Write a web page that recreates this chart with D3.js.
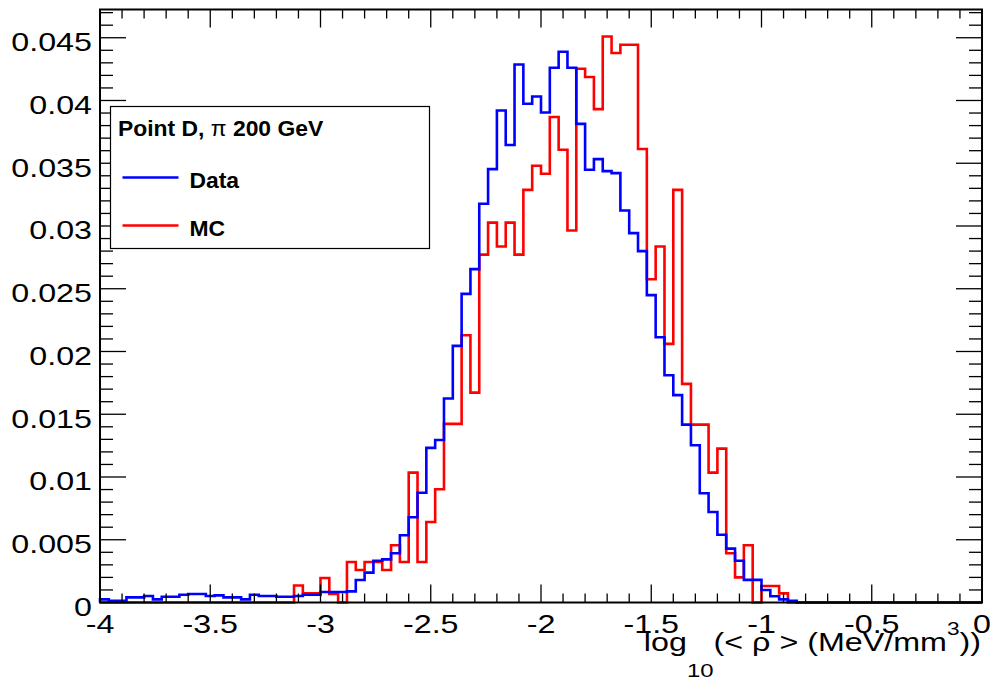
<!DOCTYPE html>
<html>
<head>
<meta charset="utf-8">
<script src="https://cdn.jsdelivr.net/npm/d3@7"></script>
<style>
  body { margin: 0; background: #fff; }
  text { font-family: "Liberation Sans", Arial, Helvetica, sans-serif; fill: #000; }
</style>
</head>
<body>
<div id="chart"></div>
<script>
// Histogram binning: 100 bins of 0.04 from -4 to 0
const xMin = -4
const binWidth = 0.04

// Data (blue), bin contents
const dataValues = [
  0.00025, 0.00014, 0.00014, 0.00041, 0.00041, 0.00052, 0.00025, 0.00046, 0.00046, 0.00062,
  0.00068, 0.00068, 0.00052, 0.00057, 0.00041, 0.00041, 0.00025, 0.00062, 0.00052, 0.00052,
  0.00046, 0.00046, 0.00052, 0.00062, 0.00062, 0.00084, 0.00084, 0.00084, 0.00089, 0.00179,
  0.00238, 0.00333, 0.00344, 0.00392, 0.00536, 0.00679, 0.00875, 0.01232, 0.01295, 0.01625,
  0.02045, 0.02459, 0.02656, 0.03177, 0.03453, 0.0392, 0.03645, 0.04287, 0.03974, 0.04032,
  0.03904, 0.04261, 0.04388, 0.04261, 0.03814, 0.03448, 0.03533, 0.03437, 0.03421, 0.03123,
  0.02943, 0.028, 0.02449, 0.02114, 0.01811, 0.01652, 0.01417, 0.01253, 0.0087, 0.00721,
  0.0054, 0.00429, 0.00333, 0.0018, 0.0018, 0.001, 0.0005, 0.00025, 0.00014, 0,
  0, 0, 0, 0, 0, 0, 0, 0, 0, 0,
  0, 0, 0, 0, 0, 0, 0, 0, 0, 0
]

// MC (red)
const mcValues = [
  0, 0, 0, 0, 0, 0, 0, 0, 0, 0,
  0, 0, 0, 0, 0, 0, 0, 0, 0, 0,
  0, 0, 0.00135, 0.00073, 0.00073, 0.00195, 0.00068, 0, 0.00323, 0.00259,
  0.00323, 0.00323, 0.00259, 0.00456, 0.00323, 0.01035, 0.00323, 0.00642, 0.00902, 0.01423,
  0.01423, 0.0213, 0.01672, 0.02772, 0.03027, 0.02836, 0.03027, 0.02772, 0.03288, 0.0348,
  0.03416, 0.03868, 0.03607, 0.02964, 0.04253, 0.04187, 0.03931, 0.0451, 0.04378, 0.04444,
  0.04444, 0.03613, 0.02576, 0.02836, 0.02061, 0.03288, 0.01742, 0.01417, 0.01417, 0.01035,
  0.01226, 0.00392, 0.002, 0.00456, 0, 0.00132, 0.00132, 0.00073, 0, 0,
  0, 0, 0, 0, 0, 0, 0, 0, 0, 0,
  0, 0, 0, 0, 0, 0, 0, 0, 0, 0
]

const xTicks = [-4, -3.5, -3, -2.5, -2, -1.5, -1, -0.5, 0]
const yTicks = [0, 0.005, 0.01, 0.015, 0.02, 0.025, 0.03, 0.035, 0.04, 0.045]
const legendTitle = "Point D, "
const legendEntries = [
  { label: "Data", color: "#0000ff" },
  { label: "MC", color: "#ff0000" }
]

// Dimensions
let dimensions = {
  width: 993,
  height: 682,
  margin: { top: 9.5, right: 11, bottom: 79.5, left: 100 }
}
dimensions.ctnrWidth = dimensions.width - dimensions.margin.left - dimensions.margin.right
dimensions.ctnrHeight = dimensions.height - dimensions.margin.top - dimensions.margin.bottom

const svg = d3.select("#chart")
  .append("svg")
  .attr("width", dimensions.width)
  .attr("height", dimensions.height)

const ctnr = svg.append("g")
  .attr("transform", `translate(${dimensions.margin.left}, ${dimensions.margin.top})`)

const xScale = d3.scaleLinear()
  .domain([-4, 0])
  .range([0, dimensions.ctnrWidth])

const yScale = d3.scaleLinear()
  .domain([0, 0.04725])
  .range([dimensions.ctnrHeight, 0])

// step outline like ROOT's HIST option
function stepLine(values) {
  const pts = []
  const x0 = xMin
  pts.push([xScale(x0), yScale(0)])
  values.forEach((v, i) => {
    const a = x0 + i * binWidth
    pts.push([xScale(a), yScale(v)])
    pts.push([xScale(a + binWidth), yScale(v)])
  })
  pts.push([xScale(x0 + values.length * binWidth), yScale(0)])
  return d3.line()(pts)
}

ctnr.append("path")
  .attr("d", stepLine(mcValues))
  .attr("fill", "none")
  .attr("stroke", "#ff0000")
  .attr("stroke-width", 2.6)

ctnr.append("path")
  .attr("d", stepLine(dataValues))
  .attr("fill", "none")
  .attr("stroke", "#0000ff")
  .attr("stroke-width", 2.6)

// Ticks on all four sides, drawn inward
const xMinor = d3.range(-40, 1).map(d => d / 10)
const yMinor = d3.range(0, 48).map(d => d / 1000)
const tickG = ctnr.append("g").attr("stroke", "#000").attr("stroke-width", 1.3)

const isMajorX = d => Math.abs(d * 2 - Math.round(d * 2)) < 1e-9
const isMajorY = d => Math.abs(d * 200 - Math.round(d * 200)) < 1e-6

xMinor.forEach(d => {
  const len = isMajorX(d) ? 18 : 9
  const x = xScale(d)
  tickG.append("line").attr("x1", x).attr("x2", x)
    .attr("y1", dimensions.ctnrHeight).attr("y2", dimensions.ctnrHeight - len)
  tickG.append("line").attr("x1", x).attr("x2", x)
    .attr("y1", 0).attr("y2", len)
})
yMinor.forEach(d => {
  const len = isMajorY(d) ? 26 : 13
  const y = yScale(d)
  tickG.append("line").attr("x1", 0).attr("x2", len).attr("y1", y).attr("y2", y)
  tickG.append("line").attr("x1", dimensions.ctnrWidth).attr("x2", dimensions.ctnrWidth - len)
    .attr("y1", y).attr("y2", y)
})

// Frame
ctnr.append("rect")
  .attr("width", dimensions.ctnrWidth)
  .attr("height", dimensions.ctnrHeight)
  .attr("fill", "none")
  .attr("stroke", "#000")
  .attr("stroke-width", 2)

// Tick labels (text in the picture is stretched horizontally)
const labelSize = 25.6
const stretch = 1.26

xTicks.forEach(d => {
  ctnr.append("text")
    .attr("transform", `translate(${xScale(d)}, ${dimensions.ctnrHeight + 30.5}) scale(${stretch},1)`)
    .attr("text-anchor", "middle")
    .style("font-size", labelSize + "px")
    .text(d)
})

yTicks.forEach(d => {
  ctnr.append("text")
    .attr("transform", `translate(-8, ${yScale(d) + 13.4}) scale(${stretch},1)`)
    .attr("text-anchor", "end")
    .style("font-size", labelSize + "px")
    .text(d)
})

// X axis title
const xTitle = ctnr.append("text")
  .attr("transform", `translate(${dimensions.ctnrWidth - 1}, ${dimensions.ctnrHeight + 48.5}) scale(${stretch},1)`)
  .attr("text-anchor", "end")
  .style("font-size", labelSize + "px")
xTitle.append("tspan").text("log")
xTitle.append("tspan").attr("dy", 26).style("font-size", "19px").text("10")
xTitle.append("tspan").attr("dy", -26).text("(< \u03C1 > (MeV/mm")
xTitle.append("tspan").attr("dy", -16).style("font-size", "18px").text("3")
xTitle.append("tspan").attr("dy", 16).text("))")

// Legend
const legend = svg.append("g").attr("transform", "translate(110.5, 106.5)")
legend.append("rect")
  .attr("width", 319)
  .attr("height", 142)
  .attr("fill", "#fff")
  .attr("stroke", "#000")
  .attr("stroke-width", 1.2)

const legTitle = legend.append("text")
  .attr("transform", "translate(7.5, 29) scale(1.04,1)")
  .style("font-size", "22px")
  .style("font-weight", "bold")
legTitle.append("tspan").text(legendTitle)
legTitle.append("tspan").style("font-weight", "normal").text("\u03C0")
legTitle.append("tspan").text(" 200 GeV")

legendEntries.forEach((e, i) => {
  const y = 71 + i * 48
  legend.append("line")
    .attr("x1", 12).attr("x2", 68)
    .attr("y1", y).attr("y2", y)
    .attr("stroke", e.color)
    .attr("stroke-width", 2.6)
  legend.append("text")
    .attr("transform", `translate(79, ${y + 10.8}) scale(1.04,1)`)
    .style("font-size", "22px")
    .style("font-weight", "bold")
    .text(e.label)
})
</script>
</body>
</html>
